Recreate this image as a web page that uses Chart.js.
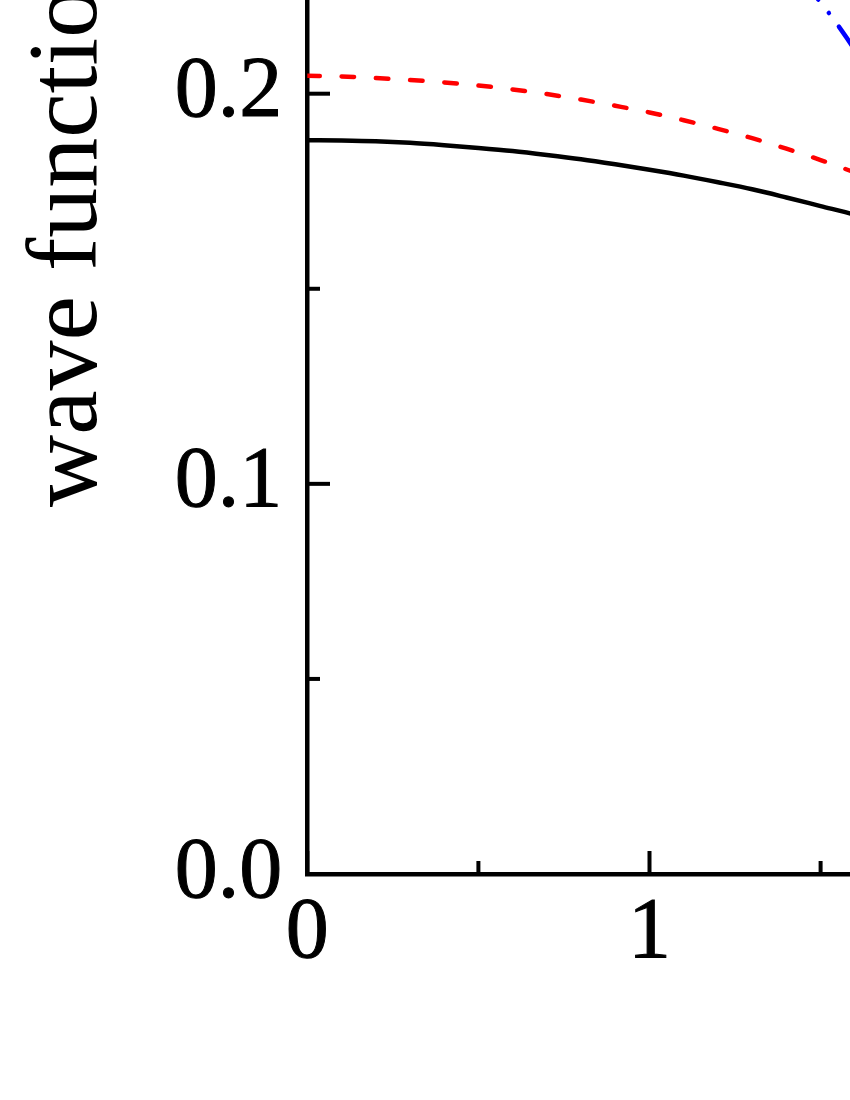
<!DOCTYPE html>
<html><head><meta charset="utf-8">
<script src="https://cdn.jsdelivr.net/npm/chart.js@4.4.0/dist/chart.umd.min.js"></script>
<style>
html,body{margin:0;padding:0;background:#fff;}
#frame{position:relative;width:850px;height:1100px;overflow:hidden;background:#fff;}
#holder{position:absolute;left:0;top:-460px;width:1340px;height:1560px;}
</style></head><body>
<div id="frame"><div id="holder"><canvas id="c"></canvas></div></div>
<script>
// ---- data ----
const xGrid       = [0.0, 0.1, 0.2, 0.3, 0.4, 0.5, 0.6, 0.7, 0.8, 0.9, 1.0, 1.1, 1.2, 1.3, 1.4, 1.5, 1.6, 1.7];
const blackSeries = [0.1881, 0.1880, 0.1878, 0.1874, 0.1868, 0.1861, 0.1853, 0.1843, 0.1832, 0.1819, 0.1805, 0.1790, 0.1773, 0.1755, 0.1734, 0.1712, 0.1690, 0.1665];
const redSeries   = [0.2046, 0.2044, 0.2040, 0.2035, 0.2029, 0.2021, 0.2011, 0.1999, 0.1985, 0.1969, 0.1952, 0.1932, 0.1910, 0.1886, 0.1859, 0.1830, 0.1798, 0.1764];
const blueX       = [1.40, 1.45, 1.50, 1.55, 1.60, 1.65, 1.70];
const blueSeries  = [0.2330, 0.2284, 0.2234, 0.2176, 0.2112, 0.2042, 0.1966];

const xMajorTicks = [0, 1, 2, 3];
const xTickLabels = ['0', '1', '2', '3'];
const xMinorTicks = [0.5, 1.5, 2.5];
const yMajorTicks = [0, 0.1, 0.2, 0.3];
const yTickLabels = ['0.0', '0.1', '0.2', '0.3'];
const yMinorTicks = [0.05, 0.15, 0.25];
const yAxisTitle  = 'wave function';

// ---- chart ----
const FAMILY = '"Liberation Serif", "DejaVu Serif", serif';
const toPts = (xs, ys) => xs.map((x, i) => ({x: x, y: ys[i]}));

const innerTicks = {
  id: 'innerTicks',
  afterDraw(chart) {
    const ctx = chart.ctx, xs = chart.scales.x, ys = chart.scales.y;
    const x0 = Math.round(xs.left), y0 = Math.round(ys.bottom);
    ctx.save();
    ctx.strokeStyle = '#000';
    ctx.lineWidth = 4;
    ctx.lineCap = 'butt';
    const seg = (a, b, c, d) => { ctx.beginPath(); ctx.moveTo(a, b); ctx.lineTo(c, d); ctx.stroke(); };
    yMajorTicks.forEach(v => { const p = ys.getPixelForValue(v); seg(x0, p, x0 + 23, p); });
    yMinorTicks.forEach(v => { const p = ys.getPixelForValue(v); seg(x0, p, x0 + 13, p); });
    xMajorTicks.forEach(v => { const p = xs.getPixelForValue(v); seg(p, y0, p, y0 - 23); });
    xMinorTicks.forEach(v => { const p = xs.getPixelForValue(v); seg(p, y0, p, y0 - 13); });
    ctx.restore();
  }
};

function draw() {
  new Chart(document.getElementById('c'), {
    type: 'line',
    data: {
      datasets: [
        { label: 'black', data: toPts(xGrid, blackSeries), borderColor: '#000000', borderWidth: 4.5,
          pointRadius: 0, fill: false, cubicInterpolationMode: 'monotone' },
        { label: 'red', data: toPts(xGrid, redSeries), borderColor: '#ff0000', borderWidth: 4.5,
          borderDash: [12.5, 21.8], borderCapStyle: 'round',
          pointRadius: 0, fill: false, cubicInterpolationMode: 'monotone' },
        { label: 'blue', data: toPts(blueX, blueSeries), borderColor: '#0000ff', borderWidth: 4.5,
          borderDash: [30, 17, 0.1, 17, 0.1, 17], borderCapStyle: 'round',
          pointRadius: 0, fill: false, cubicInterpolationMode: 'monotone' }
      ]
    },
    options: {
      responsive: true,
      maintainAspectRatio: false,
      animation: false,
      devicePixelRatio: 1,
      layout: { padding: { top: 30.9, right: 6.1, left: 0, bottom: 0 } },
      plugins: { legend: { display: false }, tooltip: { enabled: false } },
      scales: {
        x: {
          type: 'linear', min: 0, max: 3,
          grid: { display: false, drawTicks: false },
          border: { display: true, color: '#000', width: 4.5 },
          afterBuildTicks: s => { s.ticks = xMajorTicks.map(v => ({ value: v })); },
          ticks: {
            color: '#000', padding: 9, maxRotation: 0, autoSkip: false,
            textStrokeColor: '#000', textStrokeWidth: 1,
            font: { family: FAMILY, size: 86, lineHeight: 1.2 },
            callback: (v, i) => xTickLabels[i]
          },
          afterFit: s => { s.height = 226; s.paddingLeft = 0; s.paddingRight = 0; }
        },
        y: {
          type: 'linear', min: 0, max: 0.334,
          grid: { display: false, drawTicks: false },
          border: { display: true, color: '#000', width: 4.5 },
          afterBuildTicks: s => { s.ticks = yMajorTicks.map(v => ({ value: v })); },
          ticks: {
            color: '#000', padding: 25, autoSkip: false,
            textStrokeColor: '#000', textStrokeWidth: 1,
            font: { family: FAMILY, size: 86, lineHeight: 1.2 },
            callback: (v, i) => yTickLabels[i]
          },
          title: {
            display: true, text: yAxisTitle, color: '#000',
            font: { family: FAMILY, size: 100, lineHeight: 1.2 },
            padding: { top: 10, bottom: 0 }
          },
          afterFit: s => { s.width = 307.3; s.paddingTop = 0; s.paddingBottom = 0; }
        }
      }
    },
    plugins: [innerTicks]
  });
}

Promise.all([
  document.fonts.load('86px "Liberation Serif"'),
  document.fonts.load('100px "Liberation Serif"')
]).then(draw, draw);
</script>
</body></html>
